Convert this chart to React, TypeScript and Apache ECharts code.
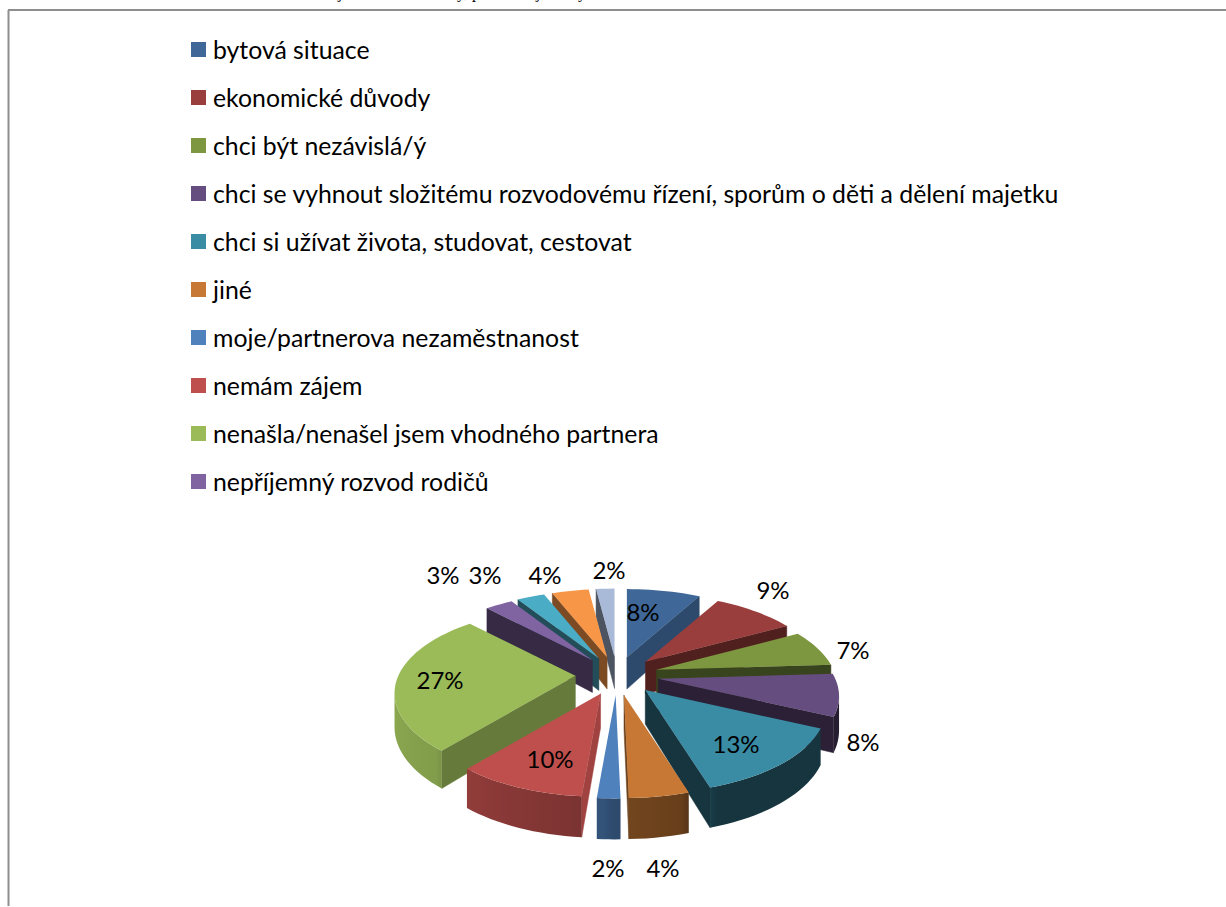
import React, { useEffect, useRef } from "react";
import * as echarts from "echarts";

// ---- data ----
const categories = [
  "bytová situace",
  "ekonomické důvody",
  "chci být nezávislá/ý",
  "chci se vyhnout složitému rozvodovému řízení, sporům o děti a dělení majetku",
  "chci si užívat života, studovat, cestovat",
  "jiné",
  "moje/partnerova nezaměstnanost",
  "nemám zájem",
  "nenašla/nenašel jsem vhodného partnera",
  "nepříjemný rozvod rodičů",
];
const extraCategories = ["další důvod 1", "další důvod 2", "další důvod 3"];
// slice sizes; the printed labels round them
const percentValues = [8, 9, 7, 8, 13.2, 4.4, 1.7, 9.6, 27, 3, 3, 4, 2];

// ---- styling ----
const topColors = ["#3F6797", "#993E3C", "#7D9640", "#664D7F", "#3A8BA4", "#C67834", "#4F81BD", "#BE4F4C", "#9BBB59", "#8064A2", "#4BACC6", "#F79646", "#A9BAD8"];
const wallShades = [0.72, 0.52, 0.45, 0.42, 0.38, 0.55, 0.58, 0.84, 0.66, 0.42, 0.45, 0.5, 0.45];
const rimStops: [number, number][] = [[0, 0.38], [162.8, 0.38], [163, 0.52], [181, 0.58], [183, 0.64], [219, 0.76], [221, 0.84], [270, 0.92], [360, 0.92]];
const labelAnchors: [number, number][] = [
  [643, 611], [773, 589], [853, 649], [863, 741], [736, 743], [663, 867], [608, 867],
  [550, 758], [440, 679], [443, 574], [485, 574], [545, 574], [609, 569],
];
const FONT = "Lato";
const LABEL_SIZE = 24;
const LEGEND_SIZE = 24.8;

// ---- 3D projection of the exploded pie ----
const CX = 617, CY = 675, RX = 177, RY = 82, PERSP = 0.205, EXPLODE = 0.235, THICK = 33, THICK_P = 0.158;

const rad = (p: number) => (p / 100) * Math.PI * 2;
const proj = (x: number, y: number): [number, number] => {
  const w = 1 + PERSP * y;
  return [(RX * x) / w, (-RY * y) / w];
};
const shade = (hex: string, f: number) => {
  const n = parseInt(hex.slice(1), 16);
  const c = [(n >> 16) & 255, (n >> 8) & 255, n & 255].map((v) => Math.round(v * f));
  return `rgb(${c[0]},${c[1]},${c[2]})`;
};
const rimShade = (t: number) => {
  const deg = (t * 180) / Math.PI;
  for (let i = 0; i < rimStops.length - 1; i++) {
    const [a, fa] = rimStops[i];
    const [b, fb] = rimStops[i + 1];
    if (deg >= a && deg <= b) return fa + ((fb - fa) * (deg - a)) / (b - a);
  }
  return 0.9;
};

const total = percentValues.reduce((a, b) => a + b, 0);
const starts: number[] = [];
percentValues.reduce((acc, v, i) => ((starts[i] = acc), acc + v), 0);

function sliceChildren(i: number, value: number) {
  const t0 = rad((starts[i] / total) * 100);
  const t1 = rad(((starts[i] + value) / total) * 100);
  const m = (t0 + t1) / 2;
  const off = proj(EXPLODE * Math.sin(m), EXPLODE * Math.cos(m));
  const ax = CX + off[0];
  const ay = CY + off[1];
  const drop = (yw: number) => THICK / (1 + THICK_P * yw);
  const apexY = EXPLODE * Math.cos(m);
  const apexDrop = drop(apexY);
  const N = Math.max(4, Math.ceil((t1 - t0) / 0.04));
  const rim: { x: number; y: number; d: number; t: number }[] = [];
  for (let k = 0; k <= N; k++) {
    const t = t0 + ((t1 - t0) * k) / N;
    const p = proj(Math.sin(t), Math.cos(t));
    rim.push({ x: ax + p[0], y: ay + p[1], d: drop(apexY + Math.cos(t)), t });
  }
  const color = topColors[i];
  const kids: any[] = [];
  const wall = (x0: number, y0: number, d0: number, x1: number, y1: number, d1: number, fill: string) => {
    if (x1 >= x0) return; // faces away from the viewer
    kids.push({
      type: "polygon",
      shape: { points: [[x0, y0], [x1, y1], [x1, y1 + d1], [x0, y0 + d0]] },
      style: { fill, stroke: fill, lineWidth: 0.5 },
    });
  };
  const wallFill = shade(color, wallShades[i]);
  const s = rim[0];
  const e = rim[rim.length - 1];
  wall(ax, ay, apexDrop, s.x, s.y, s.d, wallFill);
  wall(e.x, e.y, e.d, ax, ay, apexDrop, wallFill);
  // the part of the rim that faces the viewer: x falls along it
  const visible = rim.filter((r, k) => (k > 0 && rim[k - 1].x > r.x) || (k < rim.length - 1 && rim[k + 1].x < r.x));
  if (visible.length > 1) {
    const xs = visible.map((r) => r.x);
    const xMin = Math.min(...xs);
    const xMax = Math.max(...xs);
    const span = Math.max(xMax - xMin, 1);
    const colorStops = [...visible]
      .sort((a, b) => a.x - b.x)
      .map((r) => ({ offset: (r.x - xMin) / span, color: shade(color, rimShade(r.t)) }));
    kids.push({
      type: "polygon",
      shape: {
        points: [...visible.map((r) => [r.x, r.y]), ...[...visible].reverse().map((r) => [r.x, r.y + r.d])],
      },
      style: { fill: { type: "linear", x: xMin, y: 0, x2: xMax, y2: 0, global: true, colorStops } },
    });
  }
  kids.push({
    type: "polygon",
    shape: { points: [[ax, ay], ...rim.map((r) => [r.x, r.y])] },
    style: { fill: color },
  });
  kids.push({
    type: "text",
    x: labelAnchors[i][0],
    y: labelAnchors[i][1],
    style: {
      text: `${Math.round(value)}%`,
      fill: "#000",
      font: `${LABEL_SIZE}px ${FONT}`,
      align: "center",
      verticalAlign: "middle",
    },
  });
  return kids;
}

export default function App() {
  const ref = useRef<HTMLDivElement>(null);
  useEffect(() => {
    if (!ref.current) return;
    const chart = echarts.init(ref.current, undefined, { renderer: "svg" });
    const names = [...categories, ...extraCategories];
    // nearest slices are painted last
    const rank = percentValues.map((v, i) => {
      const m = rad(((starts[i] + v / 2) / total) * 100);
      return { i, c: Math.cos(m) };
    });
    const sorted = [...rank].sort((a, b) => b.c - a.c).map((r) => r.i);
    chart.setOption({
      animation: false,
      backgroundColor: "#fff",
      legend: {
        show: true,
        orient: "vertical",
        left: 191,
        top: 37,
        padding: 0,
        selectedMode: false,
        itemWidth: 15,
        itemHeight: 15,
        itemGap: 23,
        icon: "rect",
        data: categories,
        textStyle: { fontFamily: FONT, fontSize: LEGEND_SIZE, color: "#000", lineHeight: 15, padding: [0, 0, 0, 2] },
      },
      graphic: [
        { type: "line", shape: { x1: 8, y1: 10, x2: 1226, y2: 10 }, style: { stroke: "#8e8e8e", lineWidth: 2 } },
        { type: "line", shape: { x1: 8.5, y1: 10, x2: 8.5, y2: 906 }, style: { stroke: "#8e8e8e", lineWidth: 2 } },
        ...([["j", 338], ["y, p", 457], ["j", 536], ["y", 578]] as [string, number][]).map(([text, x]) => ({
          type: "text",
          x,
          y: 0,
          style: { text, fill: "#000", font: "16px 'Liberation Serif'", verticalAlign: "bottom" },
        })),
      ],
      series: percentValues.map((v, i) => ({
        type: "custom",
        name: names[i],
        coordinateSystem: "none",
        z: 2 + sorted.indexOf(i),
        silent: true,
        itemStyle: { color: topColors[i] },
        data: [[v]],
        renderItem: (_p: any, api: any) => ({ type: "group", children: sliceChildren(i, api.value(0)) }),
      })),
    });
    return () => chart.dispose();
  }, []);
  return <div ref={ref} style={{ position: "absolute", left: 0, top: 0, width: 1226, height: 907 }} />;
}
